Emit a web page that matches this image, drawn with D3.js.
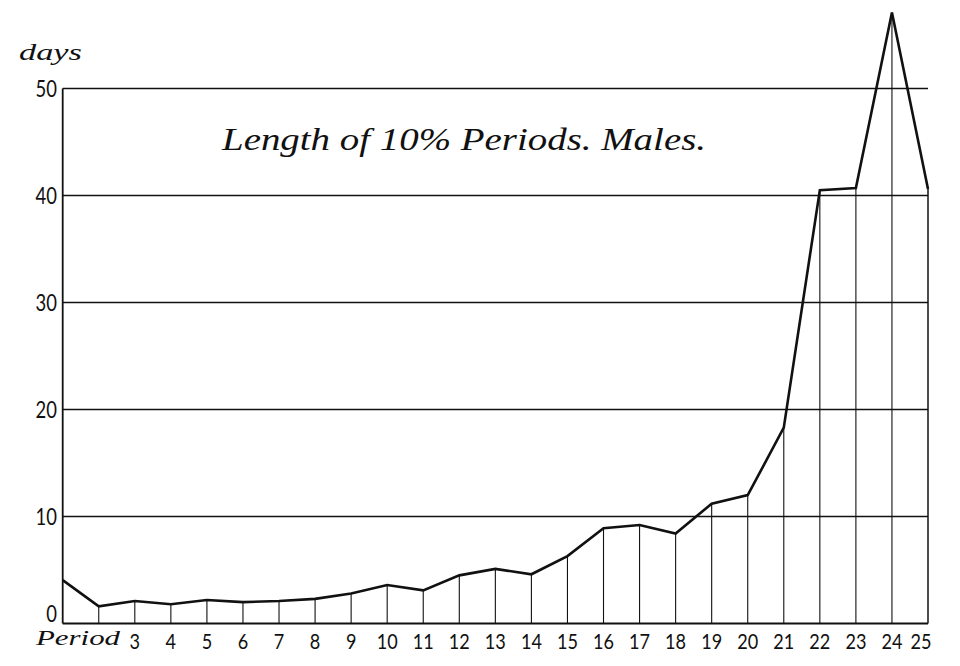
<!DOCTYPE html>
<html><head><meta charset="utf-8">
<script src="https://cdn.jsdelivr.net/npm/d3@7"></script>
<style>body{margin:0;background:#fff}svg{display:block}</style>
</head><body>
<svg id="c" width="960" height="666"></svg>
<script>
const periods = [1,2,3,4,5,6,7,8,9,10,11,12,13,14,15,16,17,18,19,20,21,22,23,24,25];
const days = [4.05,1.6,2.1,1.8,2.2,2.0,2.1,2.3,2.8,3.6,3.1,4.5,5.1,4.6,6.3,8.9,9.2,8.4,11.2,12.0,18.3,40.5,40.7,57.1,40.6];
const yTicks = [0,10,20,30,40,50];
const xLabels = [3,4,5,6,7,8,9,10,11,12,13,14,15,16,17,18,19,20,21,22,23,24,25];
const title = "Length of 10% Periods.  Males.";

const svg = d3.select("#c");
const x = d3.scaleLinear().domain([1,25]).range([62.7,928]);
const y = d3.scaleLinear().domain([0,50]).range([623.5,88.5]);
const ink = "#111";

// horizontal grid lines
svg.append("g").selectAll("line").data(yTicks.filter(d=>d>0)).join("line")
  .attr("x1",x(1)).attr("x2",x(25)).attr("y1",d=>y(d)).attr("y2",d=>y(d))
  .attr("stroke",ink).attr("stroke-width",1.5);

// baseline
svg.append("line").attr("x1",x(1)).attr("x2",x(25)).attr("y1",y(0)).attr("y2",y(0))
  .attr("stroke",ink).attr("stroke-width",2);

// left axis
svg.append("line").attr("x1",x(1)).attr("x2",x(1)).attr("y1",y(0)).attr("y2",y(50))
  .attr("stroke",ink).attr("stroke-width",1.8);

// vertical drop lines
svg.append("g").selectAll("line").data(periods.slice(1)).join("line")
  .attr("x1",d=>x(d)).attr("x2",d=>x(d))
  .attr("y1",y(0)).attr("y2",(d,i)=>y(days[i+1]))
  .attr("stroke",ink).attr("stroke-width",d=>d===25?1.5:1.1);

// data line
const line = d3.line().x((d,i)=>x(periods[i])).y(d=>y(d));
svg.append("path").attr("d",line(days)).attr("fill","none")
  .attr("stroke",ink).attr("stroke-width",2.6).attr("stroke-linejoin","miter");

// y tick labels
svg.append("g").selectAll("text").data(yTicks).join("text")
  .attr("x",57).attr("y",d=>d===0 ? y(d)-2 : y(d)+8.5).attr("text-anchor","end")
  .attr("font-family","Lato, 'DejaVu Sans', sans-serif").attr("font-size",23)
  .attr("textLength",d=>String(d).length*10.7).attr("lengthAdjust","spacingAndGlyphs")
  .attr("fill",ink).text(d=>d);

// x tick labels
svg.append("g").selectAll("text").data(xLabels).join("text")
  .attr("x",d=>d===25 ? x(d)-7 : x(d)).attr("y",649).attr("text-anchor","middle")
  .attr("font-family","Lato, 'DejaVu Sans', sans-serif").attr("font-size",22)
  .attr("textLength",d=>String(d).length*10.5).attr("lengthAdjust","spacingAndGlyphs")
  .attr("fill",ink).text(d=>d);

// "Period" and "days"
svg.append("text").attr("x",36).attr("y",645)
  .attr("font-family","'Liberation Serif', serif").attr("font-style","italic")
  .attr("font-size",21).attr("textLength",84).attr("lengthAdjust","spacingAndGlyphs")
  .attr("fill",ink).text("Period");
svg.append("text").attr("x",19).attr("y",60)
  .attr("font-family","'Liberation Serif', serif").attr("font-style","italic")
  .attr("font-size",24).attr("textLength",63).attr("lengthAdjust","spacingAndGlyphs")
  .attr("fill",ink).text("days");

// title
svg.append("text").attr("x",222).attr("y",150)
  .attr("font-family","'Liberation Serif', serif").attr("font-style","italic")
  .attr("font-size",32).attr("textLength",484).attr("lengthAdjust","spacingAndGlyphs")
  .attr("fill",ink).text(title);
</script>
</body></html>
